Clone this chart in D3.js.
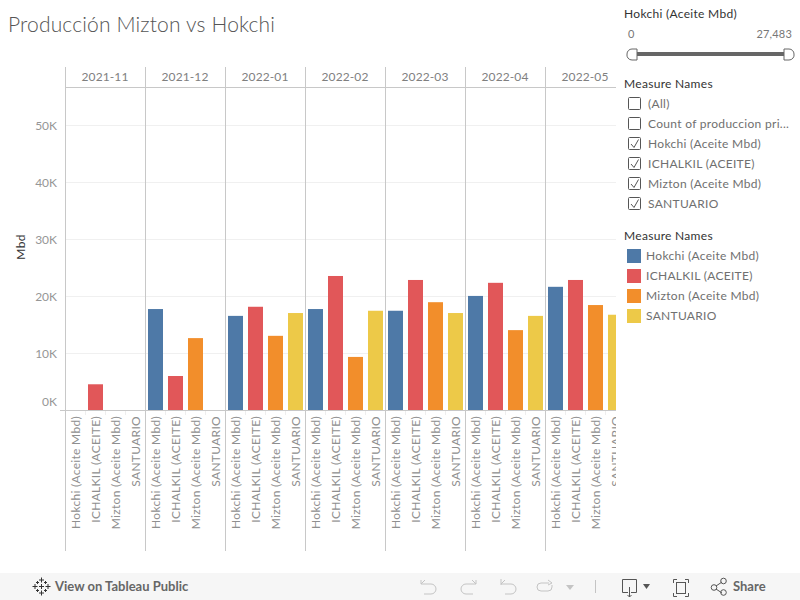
<!DOCTYPE html>
<html>
<head>
<meta charset="utf-8">
<script src="https://d3js.org/d3.v7.min.js"></script>
<style>
html, body { margin: 0; padding: 0; background: #fff; }
svg { display: block; font-family: Lato, sans-serif; }
</style>
</head>
<body>
<div id="chart"></div>
<script>
var months = ["2021-11", "2021-12", "2022-01", "2022-02", "2022-03", "2022-04", "2022-05"];
var measures = ["Hokchi (Aceite Mbd)", "ICHALKIL (ACEITE)", "Mizton (Aceite Mbd)", "SANTUARIO"];
var hokchi = [null, 17800, 16600, 17800, 17500, 20100, 21700];
var ichalkil = [4600, 6050, 18200, 23600, 22900, 22400, 22900];
var mizton = [null, 12700, 13100, 9400, 19000, 14100, 18500];
var santuario = [null, null, 17100, 17500, 17100, 16600, 16800];
var colors = ["#4e79a7", "#e15759", "#f28e2b", "#edc948"];
var yTicks = [0, 10000, 20000, 30000, 40000, 50000];
var filterItems = ["(All)", "Count of produccion pri...", "Hokchi (Aceite Mbd)", "ICHALKIL (ACEITE)", "Mizton (Aceite Mbd)", "SANTUARIO"];
var filterChecked = [false, false, true, true, true, true];
var seriesValues = [hokchi, ichalkil, mizton, santuario];

var svg = d3.select("#chart").append("svg")
    .attr("width", 800)
    .attr("height", 600);

svg.append("defs").append("clipPath").attr("id", "plotclip")
    .append("rect").attr("x", 0).attr("y", 0).attr("width", 616).attr("height", 600);

svg.append("text")
    .attr("x", 8).attr("y", 32)
    .style("font-size", "21px").style("font-weight", "300").style("letter-spacing", "0.15px").style("fill", "#555")
    .text("Producción Mizton vs Hokchi");

// scales: one band per month, then one per measure inside
var x0 = d3.scaleBand().domain(months).range([65.5, 625.5]);
var x1 = d3.scaleBand().domain(measures).range([0, 80]).paddingInner(0.25).paddingOuter(0.125);
var y = d3.scaleLinear().domain([0, 50000]).range([410.5, 125.5]);

var plot = svg.append("g").attr("clip-path", "url(#plotclip)");

// gridlines
plot.selectAll(".grid")
    .data(yTicks.slice(1))
    .enter().append("line")
    .attr("x1", 65).attr("x2", 616)
    .attr("y1", function(d) { return y(d); })
    .attr("y2", function(d) { return y(d); })
    .style("stroke", "#f0f0f0");

// one group per month
var panel = plot.selectAll(".panel")
    .data(months)
    .enter().append("g")
    .attr("class", "panel")
    .attr("transform", function(d) { return "translate(" + x0(d) + ",0)"; });

panel.append("text")
    .attr("x", 39.5).attr("y", 81)
    .attr("text-anchor", "middle")
    .style("font-size", "12px").style("letter-spacing", "0.1px").style("fill", "#7f7f7f")
    .text(function(d) { return d; });

panel.selectAll(".bar")
    .data(function(d, i) {
        return measures.map(function(m, j) { return { m: m, v: seriesValues[j][i], c: colors[j] }; })
            .filter(function(b) { return b.v !== null; });
    })
    .enter().append("rect")
    .attr("class", "bar")
    .attr("x", function(d) { return x1(d.m); })
    .attr("width", x1.bandwidth())
    .attr("y", function(d) { return y(d.v); })
    .attr("height", function(d) { return y(0) - y(d.v); })
    .style("fill", function(d) { return d.c; });

// little ticks between the measures
panel.selectAll(".mtick")
    .data([20, 40, 60])
    .enter().append("line")
    .attr("x1", function(d) { return d; })
    .attr("x2", function(d) { return d; })
    .attr("y1", 410).attr("y2", 415)
    .style("stroke", "#eeeeee");

panel.selectAll(".mlabel")
    .data(measures)
    .enter().append("text")
    .attr("class", "mlabel")
    .attr("transform", function(d) {
        return "translate(" + (x1(d) + x1.bandwidth() / 2 + 4) + ",416) rotate(-90)";
    })
    .attr("text-anchor", "end")
    .style("font-size", "12px").style("letter-spacing", "0.3px").style("fill", "#8f8f8f")
    .text(function(d) { return d; });

// panel dividers
plot.selectAll(".divider")
    .data(months)
    .enter().append("line")
    .attr("x1", function(d) { return x0(d); })
    .attr("x2", function(d) { return x0(d); })
    .attr("y1", 67).attr("y2", 551)
    .style("stroke", "#c8c8c8");

plot.append("line").attr("x1", 65).attr("x2", 616).attr("y1", 87.5).attr("y2", 87.5).style("stroke", "#c8c8c8");
plot.append("line").attr("x1", 60).attr("x2", 616).attr("y1", 410.5).attr("y2", 410.5).style("stroke", "#c8c8c8");

// y axis
var yAxis = d3.axisLeft(y)
    .tickValues(yTicks)
    .tickSize(0)
    .tickPadding(8)
    .tickFormat(function(d) { return (d / 1000) + "K"; });

var yg = svg.append("g").attr("transform", "translate(65,0)").call(yAxis);
yg.select(".domain").remove();
yg.selectAll("text").style("font-size", "12px").style("fill", "#969696").style("font-family", "Lato, sans-serif");
yg.selectAll("g.tick").filter(function(d) { return d === 0; }).select("text").attr("dy", "-0.45em");

svg.append("text")
    .attr("transform", "translate(25,247) rotate(-90)")
    .attr("text-anchor", "middle")
    .style("font-size", "12px").style("letter-spacing", "0.3px").style("fill", "#333")
    .text("Mbd");

// slider filter
var side = svg.append("g");
side.append("text").attr("x", 624).attr("y", 18).style("font-size", "12px").style("letter-spacing", "0.3px").style("fill", "#333").text("Hokchi (Aceite Mbd)");
side.append("text").attr("x", 628).attr("y", 38).style("font-size", "11px").style("fill", "#777").text("0");
side.append("text").attr("x", 792).attr("y", 38).attr("text-anchor", "end").style("font-size", "11px").style("letter-spacing", "0.2px").style("fill", "#777").text("27,483");
side.append("rect").attr("x", 634).attr("y", 52).attr("width", 152).attr("height", 4).style("fill", "#666");
side.append("path").attr("d", "M637,49 H632 A5,5 0 0 0 627,54 A5,5 0 0 0 632,60 H637 Z").style("fill", "#fff").style("stroke", "#666");
side.append("path").attr("d", "M784,49 H789 A5,5 0 0 1 794,54 A5,5 0 0 1 789,60 H784 Z").style("fill", "#fff").style("stroke", "#666");

// checkbox list
side.append("text").attr("x", 624).attr("y", 88).style("font-size", "12px").style("letter-spacing", "0.3px").style("fill", "#333").text("Measure Names");
var row = side.selectAll(".frow")
    .data(filterItems)
    .enter().append("g")
    .attr("class", "frow")
    .attr("transform", function(d, i) { return "translate(0," + (i * 20 + 104) + ")"; });
row.append("rect")
    .attr("x", 628.5).attr("y", -6.5).attr("width", 12).attr("height", 12).attr("rx", 1)
    .style("fill", "#fff").style("stroke", "#555");
row.filter(function(d, i) { return filterChecked[i]; }).append("path")
    .attr("d", "M631,0 L634,3.5 L638.5,-4.5")
    .style("fill", "none").style("stroke", "#555");
row.append("text")
    .attr("x", 648).attr("y", 4)
    .style("font-size", "12px").style("letter-spacing", "0.3px").style("fill", "#707070")
    .text(function(d) { return d; });

// colour legend
side.append("text").attr("x", 624).attr("y", 240).style("font-size", "12px").style("letter-spacing", "0.3px").style("fill", "#333").text("Measure Names");
var legend = side.selectAll(".legend")
    .data(measures)
    .enter().append("g")
    .attr("class", "legend")
    .attr("transform", function(d, i) { return "translate(0," + (i * 20 + 256) + ")"; });
legend.append("rect")
    .attr("x", 627).attr("y", -7).attr("width", 14).attr("height", 14)
    .style("fill", function(d, i) { return colors[i]; });
legend.append("text")
    .attr("x", 646).attr("y", 4)
    .style("font-size", "12px").style("letter-spacing", "0.3px").style("fill", "#707070")
    .text(function(d) { return d; });

// toolbar
var bar = svg.append("g");
bar.append("rect").attr("x", 0).attr("y", 573).attr("width", 800).attr("height", 27).style("fill", "#f6f6f6");

var logo = bar.append("g").attr("transform", "translate(41.5,586.5)").style("stroke", "#333").style("fill", "none");
[[0, -6.5, 2.5], [0, 6.5, 2.5], [-6.5, 0, 2.5], [6.5, 0, 2.5], [0, 0, 2.5], [-4, -4, 1.5], [4, -4, 1.5], [-4, 4, 1.5], [4, 4, 1.5]].forEach(function(p) {
    logo.append("path").attr("d", "M" + (p[0] - p[2]) + "," + p[1] + "H" + (p[0] + p[2]) + "M" + p[0] + "," + (p[1] - p[2]) + "V" + (p[1] + p[2]));
});
bar.append("text").attr("x", 55).attr("y", 591).style("font-size", "13px").style("font-weight", "700").style("fill", "#666").text("View on Tableau Public");

var grey = "#c4c4c4";
bar.append("path").attr("d", "M421,580 V584 H431 A5,5 0 0 1 431,594 H424 M421,584 L425,580").style("fill", "none").style("stroke", grey);
bar.append("path").attr("d", "M476,580 V584 H466 A5,5 0 0 0 466,594 H473 M476,584 L472,580").style("fill", "none").style("stroke", grey);
bar.append("path").attr("d", "M501,579 V585 M501,584 H511 A5,5 0 0 1 511,594 H505 M501,584 L505,580").style("fill", "none").style("stroke", grey);
bar.append("path").attr("d", "M549,583 H541 A4,4 0 0 0 541,591 H548 A4,4 0 0 0 552,587 V585 M548,580 L552,583 L548,585").style("fill", "none").style("stroke", grey);
bar.append("path").attr("d", "M566,585 H574 L570,590 Z").style("fill", grey);
bar.append("line").attr("x1", 595.5).attr("x2", 595.5).attr("y1", 580).attr("y2", 593).style("stroke", grey);
bar.append("path").attr("d", "M628,592.5 H622.5 V579.5 H636.5 V592.5 H631 M629.5,587 V597 M627.5,595 L629.5,597 L631.5,595").style("fill", "none").style("stroke", "#555");
bar.append("path").attr("d", "M643,584 H650 L646.5,589 Z").style("fill", "#555");
bar.append("path").attr("d", "M677,579.5 H673.5 V583 M685,579.5 H688.5 V583 M677,596.5 H673.5 V593 M685,596.5 H688.5 V593").style("fill", "none").style("stroke", "#555");
bar.append("rect").attr("x", 676.5).attr("y", 582.5).attr("width", 9).attr("height", 11).style("fill", "none").style("stroke", "#555");
var share = bar.append("g").style("fill", "none").style("stroke", "#555");
share.append("path").attr("d", "M716,586 L722,582 M716,589 L722,593");
share.append("circle").attr("cx", 714).attr("cy", 587.5).attr("r", 2.8);
share.append("circle").attr("cx", 723.5).attr("cy", 581).attr("r", 2.8);
share.append("circle").attr("cx", 723.5).attr("cy", 592.5).attr("r", 2.8);
bar.append("text").attr("x", 733).attr("y", 591).style("font-size", "13px").style("font-weight", "700").style("fill", "#666").text("Share");
</script>
</body>
</html>
